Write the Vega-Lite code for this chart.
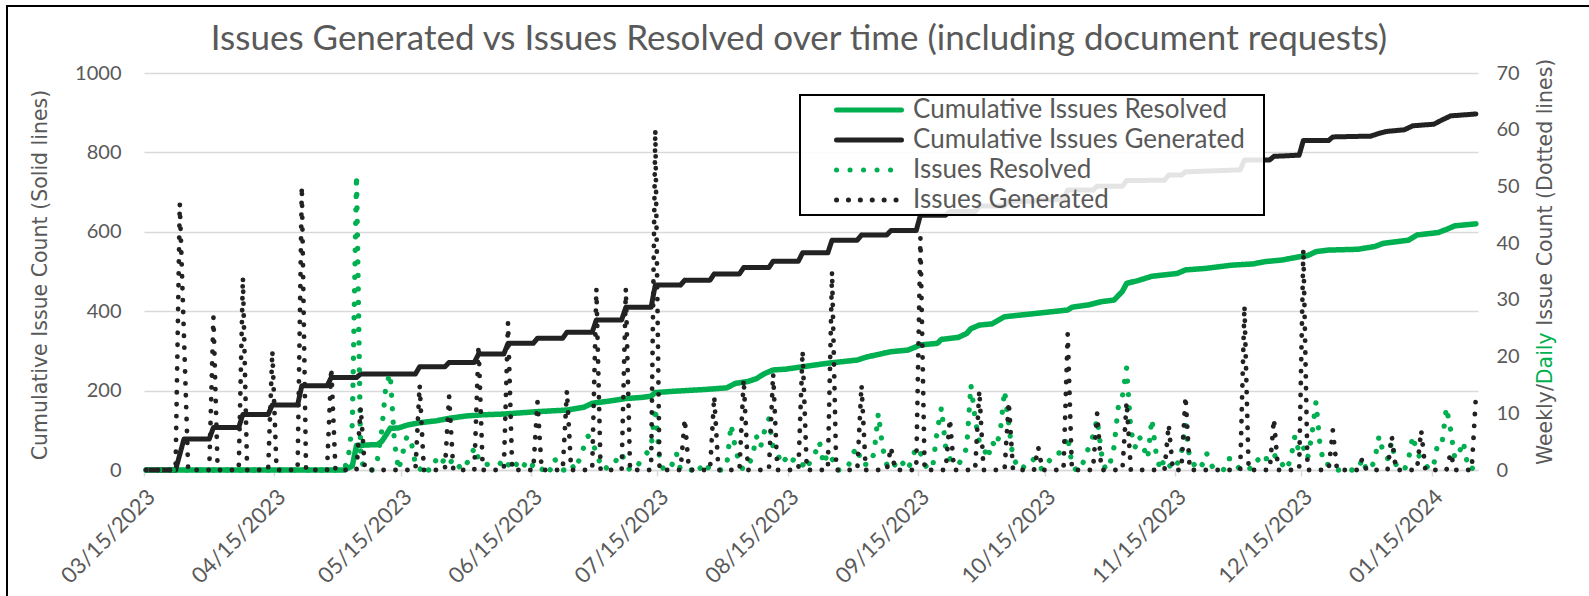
{
"$schema":"https://vega.github.io/schema/vega-lite/v6.json",
"width":1334,"height":397,
"autosize":{"type":"none"},
"padding":{"left":144,"top":73,"right":111,"bottom":126},
"background":"white",
"title":{"text":"Issues Generated vs Issues Resolved over time (including document requests)","font":"Lato","fontSize":35,"fontWeight":"normal","color":"#595959","anchor":"middle","dx":-12,"dy":95,"baseline":"alphabetic","offset":15},
"datasets":{
"resolved_cum":[{"date":"2023-03-15","count":0},{"date":"2023-05-01","count":0},{"date":"2023-05-03","count":10},{"date":"2023-05-04","count":62},{"date":"2023-05-09","count":64},{"date":"2023-05-10","count":72},{"date":"2023-05-11","count":88},{"date":"2023-05-12","count":105},{"date":"2023-05-14","count":106},{"date":"2023-05-16","count":113},{"date":"2023-05-19","count":119},{"date":"2023-05-23","count":124},{"date":"2023-05-26","count":130},{"date":"2023-05-30","count":136},{"date":"2023-06-03","count":139},{"date":"2023-06-08","count":141},{"date":"2023-06-16","count":147},{"date":"2023-06-23","count":151},{"date":"2023-06-27","count":158},{"date":"2023-06-29","count":168},{"date":"2023-07-04","count":175},{"date":"2023-07-07","count":180},{"date":"2023-07-11","count":183},{"date":"2023-07-13","count":186},{"date":"2023-07-14","count":195},{"date":"2023-07-18","count":198},{"date":"2023-07-26","count":203},{"date":"2023-07-31","count":207},{"date":"2023-08-02","count":218},{"date":"2023-08-05","count":223},{"date":"2023-08-07","count":230},{"date":"2023-08-09","count":243},{"date":"2023-08-11","count":252},{"date":"2023-08-14","count":254},{"date":"2023-08-18","count":260},{"date":"2023-08-20","count":263},{"date":"2023-08-24","count":269},{"date":"2023-08-31","count":277},{"date":"2023-09-02","count":284},{"date":"2023-09-05","count":291},{"date":"2023-09-08","count":298},{"date":"2023-09-12","count":302},{"date":"2023-09-15","count":315},{"date":"2023-09-19","count":319},{"date":"2023-09-20","count":329},{"date":"2023-09-24","count":334},{"date":"2023-09-26","count":344},{"date":"2023-09-27","count":356},{"date":"2023-09-29","count":365},{"date":"2023-10-02","count":368},{"date":"2023-10-05","count":386},{"date":"2023-10-13","count":395},{"date":"2023-10-20","count":403},{"date":"2023-10-21","count":410},{"date":"2023-10-25","count":416},{"date":"2023-10-28","count":424},{"date":"2023-10-31","count":428},{"date":"2023-11-02","count":450},{"date":"2023-11-03","count":470},{"date":"2023-11-06","count":478},{"date":"2023-11-09","count":488},{"date":"2023-11-15","count":495},{"date":"2023-11-17","count":504},{"date":"2023-11-22","count":508},{"date":"2023-11-28","count":516},{"date":"2023-12-03","count":519},{"date":"2023-12-06","count":525},{"date":"2023-12-10","count":529},{"date":"2023-12-12","count":533},{"date":"2023-12-14","count":537},{"date":"2023-12-16","count":540},{"date":"2023-12-18","count":550},{"date":"2023-12-21","count":554},{"date":"2023-12-28","count":556},{"date":"2024-01-01","count":563},{"date":"2024-01-03","count":571},{"date":"2024-01-09","count":579},{"date":"2024-01-11","count":592},{"date":"2024-01-16","count":598},{"date":"2024-01-18","count":606},{"date":"2024-01-20","count":615},{"date":"2024-01-25","count":620}],
"generated_cum":[{"date":"2023-03-15","count":0},{"date":"2023-03-22","count":0},{"date":"2023-03-24","count":78},{"date":"2023-03-30","count":78},{"date":"2023-03-31","count":107},{"date":"2023-04-06","count":107},{"date":"2023-04-07","count":140},{"date":"2023-04-13","count":140},{"date":"2023-04-14","count":164},{"date":"2023-04-20","count":164},{"date":"2023-04-21","count":212},{"date":"2023-04-27","count":212},{"date":"2023-04-28","count":233},{"date":"2023-05-04","count":233},{"date":"2023-05-05","count":242},{"date":"2023-05-18","count":242},{"date":"2023-05-19","count":260},{"date":"2023-05-25","count":260},{"date":"2023-05-26","count":271},{"date":"2023-06-01","count":271},{"date":"2023-06-02","count":292},{"date":"2023-06-08","count":292},{"date":"2023-06-09","count":319},{"date":"2023-06-15","count":319},{"date":"2023-06-16","count":332},{"date":"2023-06-22","count":332},{"date":"2023-06-23","count":347},{"date":"2023-06-29","count":347},{"date":"2023-06-30","count":378},{"date":"2023-07-06","count":378},{"date":"2023-07-07","count":410},{"date":"2023-07-13","count":410},{"date":"2023-07-14","count":466},{"date":"2023-07-20","count":466},{"date":"2023-07-21","count":478},{"date":"2023-07-27","count":478},{"date":"2023-07-28","count":494},{"date":"2023-08-03","count":494},{"date":"2023-08-04","count":510},{"date":"2023-08-10","count":510},{"date":"2023-08-11","count":526},{"date":"2023-08-17","count":526},{"date":"2023-08-18","count":547},{"date":"2023-08-24","count":547},{"date":"2023-08-25","count":579},{"date":"2023-08-31","count":579},{"date":"2023-09-01","count":592},{"date":"2023-09-07","count":592},{"date":"2023-09-08","count":603},{"date":"2023-09-14","count":603},{"date":"2023-09-15","count":642},{"date":"2023-09-21","count":642},{"date":"2023-09-22","count":651},{"date":"2023-09-28","count":651},{"date":"2023-09-29","count":665},{"date":"2023-10-05","count":665},{"date":"2023-10-06","count":677},{"date":"2023-10-12","count":677},{"date":"2023-10-13","count":681},{"date":"2023-10-19","count":681},{"date":"2023-10-20","count":705},{"date":"2023-10-26","count":705},{"date":"2023-10-27","count":715},{"date":"2023-11-02","count":715},{"date":"2023-11-03","count":729},{"date":"2023-11-12","count":730},{"date":"2023-11-13","count":743},{"date":"2023-11-16","count":743},{"date":"2023-11-17","count":751},{"date":"2023-11-30","count":756},{"date":"2023-12-01","count":781},{"date":"2023-12-07","count":781},{"date":"2023-12-08","count":790},{"date":"2023-12-14","count":793},{"date":"2023-12-15","count":830},{"date":"2023-12-21","count":830},{"date":"2023-12-22","count":839},{"date":"2023-12-31","count":841},{"date":"2024-01-02","count":848},{"date":"2024-01-04","count":853},{"date":"2024-01-08","count":857},{"date":"2024-01-10","count":867},{"date":"2024-01-15","count":871},{"date":"2024-01-17","count":882},{"date":"2024-01-19","count":892},{"date":"2024-01-24","count":896},{"date":"2024-01-25","count":897}],
"generated_daily":[{"date":"2023-03-15","count":0},{"date":"2023-03-22","count":0},{"date":"2023-03-23","count":47},{"date":"2023-03-25","count":0},{"date":"2023-03-30","count":0},{"date":"2023-03-31","count":27},{"date":"2023-04-01","count":0},{"date":"2023-04-06","count":0},{"date":"2023-04-07","count":34},{"date":"2023-04-08","count":0},{"date":"2023-04-13","count":0},{"date":"2023-04-14","count":21},{"date":"2023-04-15","count":0},{"date":"2023-04-20","count":0},{"date":"2023-04-21","count":50},{"date":"2023-04-22","count":0},{"date":"2023-04-27","count":0},{"date":"2023-04-28","count":18},{"date":"2023-04-29","count":0},{"date":"2023-05-04","count":0},{"date":"2023-05-05","count":11},{"date":"2023-05-06","count":0},{"date":"2023-05-18","count":0},{"date":"2023-05-19","count":15},{"date":"2023-05-20","count":0},{"date":"2023-05-25","count":0},{"date":"2023-05-26","count":13},{"date":"2023-05-27","count":0},{"date":"2023-06-01","count":0},{"date":"2023-06-02","count":22},{"date":"2023-06-03","count":0},{"date":"2023-06-08","count":0},{"date":"2023-06-09","count":26},{"date":"2023-06-10","count":0},{"date":"2023-06-15","count":0},{"date":"2023-06-16","count":12},{"date":"2023-06-17","count":0},{"date":"2023-06-22","count":0},{"date":"2023-06-23","count":14},{"date":"2023-06-24","count":0},{"date":"2023-06-29","count":0},{"date":"2023-06-30","count":32},{"date":"2023-07-01","count":0},{"date":"2023-07-06","count":0},{"date":"2023-07-07","count":32},{"date":"2023-07-08","count":0},{"date":"2023-07-13","count":0},{"date":"2023-07-14","count":60},{"date":"2023-07-15","count":0},{"date":"2023-07-20","count":0},{"date":"2023-07-21","count":9},{"date":"2023-07-22","count":0},{"date":"2023-07-27","count":0},{"date":"2023-07-28","count":13},{"date":"2023-07-29","count":0},{"date":"2023-08-03","count":0},{"date":"2023-08-04","count":16},{"date":"2023-08-05","count":0},{"date":"2023-08-10","count":0},{"date":"2023-08-11","count":17},{"date":"2023-08-12","count":0},{"date":"2023-08-17","count":0},{"date":"2023-08-18","count":21},{"date":"2023-08-19","count":0},{"date":"2023-08-24","count":0},{"date":"2023-08-25","count":35},{"date":"2023-08-26","count":0},{"date":"2023-08-31","count":0},{"date":"2023-09-01","count":15},{"date":"2023-09-02","count":0},{"date":"2023-09-07","count":0},{"date":"2023-09-08","count":4},{"date":"2023-09-09","count":0},{"date":"2023-09-14","count":0},{"date":"2023-09-15","count":41},{"date":"2023-09-16","count":0},{"date":"2023-09-21","count":0},{"date":"2023-09-22","count":9},{"date":"2023-09-23","count":0},{"date":"2023-09-28","count":0},{"date":"2023-09-29","count":14},{"date":"2023-09-30","count":0},{"date":"2023-10-05","count":0},{"date":"2023-10-06","count":12},{"date":"2023-10-07","count":0},{"date":"2023-10-12","count":0},{"date":"2023-10-13","count":4},{"date":"2023-10-14","count":0},{"date":"2023-10-19","count":0},{"date":"2023-10-20","count":24},{"date":"2023-10-21","count":0},{"date":"2023-10-26","count":0},{"date":"2023-10-27","count":10},{"date":"2023-10-28","count":0},{"date":"2023-11-02","count":0},{"date":"2023-11-03","count":12},{"date":"2023-11-04","count":0},{"date":"2023-11-12","count":0},{"date":"2023-11-13","count":8},{"date":"2023-11-14","count":0},{"date":"2023-11-16","count":0},{"date":"2023-11-17","count":13},{"date":"2023-11-18","count":0},{"date":"2023-11-30","count":0},{"date":"2023-12-01","count":29},{"date":"2023-12-02","count":0},{"date":"2023-12-07","count":0},{"date":"2023-12-08","count":9},{"date":"2023-12-09","count":0},{"date":"2023-12-14","count":0},{"date":"2023-12-15","count":39},{"date":"2023-12-16","count":0},{"date":"2023-12-21","count":0},{"date":"2023-12-22","count":7},{"date":"2023-12-23","count":0},{"date":"2023-12-28","count":0},{"date":"2023-12-29","count":2},{"date":"2023-12-30","count":0},{"date":"2024-01-04","count":0},{"date":"2024-01-05","count":6},{"date":"2024-01-06","count":0},{"date":"2024-01-11","count":0},{"date":"2024-01-12","count":7},{"date":"2024-01-13","count":0},{"date":"2024-01-18","count":0},{"date":"2024-01-19","count":3},{"date":"2024-01-20","count":0},{"date":"2024-01-24","count":0},{"date":"2024-01-25","count":13}],
"resolved_daily":[{"date":"2023-03-15","count":0},{"date":"2023-05-01","count":0},{"date":"2023-05-02","count":2},{"date":"2023-05-03","count":8},{"date":"2023-05-04","count":52},{"date":"2023-05-05","count":2},{"date":"2023-05-06","count":0},{"date":"2023-05-08","count":0},{"date":"2023-05-09","count":2},{"date":"2023-05-10","count":7},{"date":"2023-05-11","count":15},{"date":"2023-05-12","count":17},{"date":"2023-05-13","count":5},{"date":"2023-05-14","count":0},{"date":"2023-05-15","count":3},{"date":"2023-05-16","count":6},{"date":"2023-05-17","count":5},{"date":"2023-05-18","count":1},{"date":"2023-05-19","count":0},{"date":"2023-05-20","count":1},{"date":"2023-05-21","count":0},{"date":"2023-05-22","count":0},{"date":"2023-05-23","count":2},{"date":"2023-05-24","count":1},{"date":"2023-05-25","count":2},{"date":"2023-05-26","count":1},{"date":"2023-05-27","count":2},{"date":"2023-05-28","count":1},{"date":"2023-05-29","count":0},{"date":"2023-05-30","count":1},{"date":"2023-05-31","count":2},{"date":"2023-06-01","count":4},{"date":"2023-06-02","count":2},{"date":"2023-06-03","count":1},{"date":"2023-06-04","count":1},{"date":"2023-06-05","count":1},{"date":"2023-06-06","count":1},{"date":"2023-06-07","count":1},{"date":"2023-06-08","count":2},{"date":"2023-06-09","count":1},{"date":"2023-06-10","count":0},{"date":"2023-06-11","count":1},{"date":"2023-06-12","count":0},{"date":"2023-06-13","count":1},{"date":"2023-06-14","count":0},{"date":"2023-06-15","count":1},{"date":"2023-06-16","count":1},{"date":"2023-06-17","count":0},{"date":"2023-06-18","count":1},{"date":"2023-06-19","count":0},{"date":"2023-06-20","count":2},{"date":"2023-06-21","count":1},{"date":"2023-06-22","count":0},{"date":"2023-06-23","count":0},{"date":"2023-06-24","count":1},{"date":"2023-06-25","count":0},{"date":"2023-06-26","count":2},{"date":"2023-06-27","count":4},{"date":"2023-06-28","count":6},{"date":"2023-06-29","count":5},{"date":"2023-06-30","count":3},{"date":"2023-07-01","count":1},{"date":"2023-07-02","count":0},{"date":"2023-07-03","count":1},{"date":"2023-07-04","count":1},{"date":"2023-07-05","count":2},{"date":"2023-07-06","count":3},{"date":"2023-07-07","count":1},{"date":"2023-07-08","count":0},{"date":"2023-07-09","count":1},{"date":"2023-07-10","count":1},{"date":"2023-07-11","count":2},{"date":"2023-07-12","count":3},{"date":"2023-07-13","count":4},{"date":"2023-07-14","count":11},{"date":"2023-07-15","count":2},{"date":"2023-07-16","count":0},{"date":"2023-07-17","count":0},{"date":"2023-07-18","count":1},{"date":"2023-07-19","count":3},{"date":"2023-07-20","count":0},{"date":"2023-07-23","count":0},{"date":"2023-07-24","count":1},{"date":"2023-07-25","count":0},{"date":"2023-07-26","count":1},{"date":"2023-07-27","count":0},{"date":"2023-07-30","count":0},{"date":"2023-07-31","count":1},{"date":"2023-08-01","count":8},{"date":"2023-08-02","count":4},{"date":"2023-08-03","count":1},{"date":"2023-08-04","count":0},{"date":"2023-08-05","count":1},{"date":"2023-08-06","count":2},{"date":"2023-08-07","count":6},{"date":"2023-08-08","count":4},{"date":"2023-08-09","count":7},{"date":"2023-08-10","count":9},{"date":"2023-08-11","count":4},{"date":"2023-08-12","count":3},{"date":"2023-08-13","count":1},{"date":"2023-08-14","count":2},{"date":"2023-08-15","count":1},{"date":"2023-08-16","count":2},{"date":"2023-08-17","count":1},{"date":"2023-08-18","count":1},{"date":"2023-08-19","count":0},{"date":"2023-08-20","count":2},{"date":"2023-08-21","count":3},{"date":"2023-08-22","count":5},{"date":"2023-08-23","count":1},{"date":"2023-08-24","count":3},{"date":"2023-08-25","count":2},{"date":"2023-08-26","count":0},{"date":"2023-08-28","count":0},{"date":"2023-08-29","count":1},{"date":"2023-08-30","count":3},{"date":"2023-08-31","count":4},{"date":"2023-09-01","count":1},{"date":"2023-09-02","count":1},{"date":"2023-09-03","count":1},{"date":"2023-09-04","count":3},{"date":"2023-09-05","count":10},{"date":"2023-09-06","count":4},{"date":"2023-09-07","count":1},{"date":"2023-09-08","count":0},{"date":"2023-09-09","count":1},{"date":"2023-09-10","count":2},{"date":"2023-09-11","count":1},{"date":"2023-09-12","count":0},{"date":"2023-09-13","count":2},{"date":"2023-09-14","count":4},{"date":"2023-09-15","count":3},{"date":"2023-09-16","count":1},{"date":"2023-09-17","count":0},{"date":"2023-09-18","count":1},{"date":"2023-09-19","count":7},{"date":"2023-09-20","count":11},{"date":"2023-09-21","count":4},{"date":"2023-09-22","count":2},{"date":"2023-09-23","count":1},{"date":"2023-09-24","count":1},{"date":"2023-09-25","count":2},{"date":"2023-09-26","count":4},{"date":"2023-09-27","count":15},{"date":"2023-09-28","count":9},{"date":"2023-09-29","count":5},{"date":"2023-09-30","count":4},{"date":"2023-10-01","count":2},{"date":"2023-10-02","count":5},{"date":"2023-10-03","count":4},{"date":"2023-10-04","count":7},{"date":"2023-10-05","count":14},{"date":"2023-10-06","count":8},{"date":"2023-10-07","count":2},{"date":"2023-10-08","count":1},{"date":"2023-10-09","count":0},{"date":"2023-10-10","count":1},{"date":"2023-10-11","count":1},{"date":"2023-10-12","count":2},{"date":"2023-10-13","count":1},{"date":"2023-10-14","count":0},{"date":"2023-10-15","count":1},{"date":"2023-10-16","count":2},{"date":"2023-10-17","count":3},{"date":"2023-10-18","count":3},{"date":"2023-10-19","count":4},{"date":"2023-10-20","count":6},{"date":"2023-10-21","count":1},{"date":"2023-10-22","count":0},{"date":"2023-10-23","count":0},{"date":"2023-10-24","count":2},{"date":"2023-10-25","count":4},{"date":"2023-10-26","count":6},{"date":"2023-10-27","count":9},{"date":"2023-10-28","count":3},{"date":"2023-10-29","count":0},{"date":"2023-10-30","count":1},{"date":"2023-10-31","count":4},{"date":"2023-11-01","count":11},{"date":"2023-11-02","count":13},{"date":"2023-11-03","count":18},{"date":"2023-11-04","count":7},{"date":"2023-11-05","count":4},{"date":"2023-11-06","count":6},{"date":"2023-11-07","count":4},{"date":"2023-11-08","count":2},{"date":"2023-11-09","count":9},{"date":"2023-11-10","count":3},{"date":"2023-11-11","count":0},{"date":"2023-11-12","count":2},{"date":"2023-11-13","count":1},{"date":"2023-11-14","count":0},{"date":"2023-11-15","count":1},{"date":"2023-11-16","count":3},{"date":"2023-11-17","count":8},{"date":"2023-11-18","count":2},{"date":"2023-11-19","count":1},{"date":"2023-11-20","count":0},{"date":"2023-11-21","count":1},{"date":"2023-11-22","count":3},{"date":"2023-11-23","count":1},{"date":"2023-11-24","count":0},{"date":"2023-11-26","count":0},{"date":"2023-11-27","count":2},{"date":"2023-11-28","count":2},{"date":"2023-11-29","count":1},{"date":"2023-11-30","count":0},{"date":"2023-12-02","count":0},{"date":"2023-12-03","count":1},{"date":"2023-12-04","count":2},{"date":"2023-12-05","count":1},{"date":"2023-12-06","count":2},{"date":"2023-12-07","count":2},{"date":"2023-12-08","count":3},{"date":"2023-12-09","count":1},{"date":"2023-12-10","count":1},{"date":"2023-12-11","count":0},{"date":"2023-12-12","count":2},{"date":"2023-12-13","count":6},{"date":"2023-12-14","count":3},{"date":"2023-12-15","count":4},{"date":"2023-12-16","count":2},{"date":"2023-12-17","count":6},{"date":"2023-12-18","count":12},{"date":"2023-12-19","count":4},{"date":"2023-12-20","count":1},{"date":"2023-12-21","count":1},{"date":"2023-12-22","count":0},{"date":"2023-12-28","count":0},{"date":"2023-12-29","count":2},{"date":"2023-12-30","count":0},{"date":"2023-12-31","count":0},{"date":"2024-01-01","count":2},{"date":"2024-01-02","count":6},{"date":"2024-01-03","count":3},{"date":"2024-01-04","count":2},{"date":"2024-01-05","count":5},{"date":"2024-01-06","count":1},{"date":"2024-01-07","count":0},{"date":"2024-01-08","count":0},{"date":"2024-01-09","count":2},{"date":"2024-01-10","count":6},{"date":"2024-01-11","count":3},{"date":"2024-01-12","count":2},{"date":"2024-01-13","count":1},{"date":"2024-01-14","count":0},{"date":"2024-01-15","count":1},{"date":"2024-01-16","count":5},{"date":"2024-01-17","count":5},{"date":"2024-01-18","count":11},{"date":"2024-01-19","count":7},{"date":"2024-01-20","count":2},{"date":"2024-01-21","count":3},{"date":"2024-01-22","count":5},{"date":"2024-01-23","count":1},{"date":"2024-01-24","count":0},{"date":"2024-01-25","count":2}],
"axis_range":[{"count":0},{"count":70}]
},
"layer":[
{"layer":[
 {"data":{"name":"resolved_cum","format":{"parse":{"date":"date:'%Y-%m-%d'"}}},
  "mark":{"type":"line","strokeWidth":5.5,"strokeCap":"round","strokeJoin":"round"},
  "encoding":{
   "x":{"field":"date","type":"temporal","timeUnit":"yearmonthdate","bandPosition":0.5,"scale":{"domain":[{"year":2023,"month":3,"date":15},{"year":2024,"month":1,"date":26}]},
    "axis":{"title":null,"format":"%m/%d/%Y","formatType":"time","values":[{"year":2023,"month":3,"date":15},{"year":2023,"month":4,"date":15},{"year":2023,"month":5,"date":15},{"year":2023,"month":6,"date":15},{"year":2023,"month":7,"date":15},{"year":2023,"month":8,"date":15},{"year":2023,"month":9,"date":15},{"year":2023,"month":10,"date":15},{"year":2023,"month":11,"date":15},{"year":2023,"month":12,"date":15},{"year":2024,"month":1,"date":15}],"labelAngle":-45,"labelFont":"Lato","labelFontSize":22,"labelColor":"#595959","labelPadding":10,"labelOverlap":false,"grid":false,"domainColor":"#d9d9d9","domainWidth":1.5,"tickColor":"#d9d9d9","tickWidth":1.5,"tickSize":6}},
   "y":{"field":"count","type":"quantitative","scale":{"domain":[0,1000],"nice":false},
    "axis":{"values":[0,100,200,300,400,500,600,700,800,900,1000],"format":"d","title":"Cumulative Issue Count (Solid lines)","titleFont":"DejaVu Sans","titleFontSize":20.5,"titleFontWeight":"normal","titleColor":"#595959","titleAngle":270,"titleX":-103.5,"titleY":201.5,"titleAlign":"center","titleBaseline":"middle","titleLimit":1000,"labelFont":"Lato","labelFontSize":20,"labelColor":"#595959","labelPadding":23,"ticks":false,"domain":false,"grid":true,"gridColor":"#d9d9d9","gridWidth":1.5}},
   "color":{"datum":"Cumulative Issues Resolved","type":"nominal","scale":{"domain":["Cumulative Issues Resolved","Cumulative Issues Generated","Issues Resolved","Issues Generated"],"range":["#00b050","#222222","#00b050","#222222"]},"legend":{"title":".","titleOrient":"right","titleColor":"transparent","titleFontSize":10,"titlePadding":16,"encode":{"symbols":{"update":{"strokeCap":{"value":"round"}}}}}},
   "strokeDash":{"datum":"Cumulative Issues Resolved","type":"nominal","scale":{"domain":["Cumulative Issues Resolved","Cumulative Issues Generated","Issues Resolved","Issues Generated"],"range":[[1,0],[1,0],[0.1,13.4],[0.1,11.8]]},"legend":{"title":".","titleOrient":"right","titleColor":"transparent","titleFontSize":10,"titlePadding":16,"encode":{"symbols":{"update":{"strokeCap":{"value":"round"}}}}}}
  }},
 {"data":{"name":"generated_cum","format":{"parse":{"date":"date:'%Y-%m-%d'"}}},
  "mark":{"type":"line","strokeWidth":5,"strokeCap":"round","strokeJoin":"round"},
  "encoding":{
   "x":{"field":"date","type":"temporal","timeUnit":"yearmonthdate","bandPosition":0.5,"scale":{"domain":[{"year":2023,"month":3,"date":15},{"year":2024,"month":1,"date":26}]},
    "axis":{"title":null,"format":"%m/%d/%Y","formatType":"time","values":[{"year":2023,"month":3,"date":15},{"year":2023,"month":4,"date":15},{"year":2023,"month":5,"date":15},{"year":2023,"month":6,"date":15},{"year":2023,"month":7,"date":15},{"year":2023,"month":8,"date":15},{"year":2023,"month":9,"date":15},{"year":2023,"month":10,"date":15},{"year":2023,"month":11,"date":15},{"year":2023,"month":12,"date":15},{"year":2024,"month":1,"date":15}],"labelAngle":-45,"labelFont":"Lato","labelFontSize":22,"labelColor":"#595959","labelPadding":10,"labelOverlap":false,"grid":false,"domainColor":"#d9d9d9","domainWidth":1.5,"tickColor":"#d9d9d9","tickWidth":1.5,"tickSize":6}},
   "y":{"field":"count","type":"quantitative","scale":{"domain":[0,1000],"nice":false}},
   "color":{"datum":"Cumulative Issues Generated","type":"nominal","scale":{"domain":["Cumulative Issues Resolved","Cumulative Issues Generated","Issues Resolved","Issues Generated"],"range":["#00b050","#222222","#00b050","#222222"]},"legend":{"title":".","titleOrient":"right","titleColor":"transparent","titleFontSize":10,"titlePadding":16,"encode":{"symbols":{"update":{"strokeCap":{"value":"round"}}}}}},
   "strokeDash":{"datum":"Cumulative Issues Generated","type":"nominal","scale":{"domain":["Cumulative Issues Resolved","Cumulative Issues Generated","Issues Resolved","Issues Generated"],"range":[[1,0],[1,0],[0.1,13.4],[0.1,11.8]]},"legend":{"title":".","titleOrient":"right","titleColor":"transparent","titleFontSize":10,"titlePadding":16,"encode":{"symbols":{"update":{"strokeCap":{"value":"round"}}}}}}
  }}
]},
{"layer":[
 {"data":{"name":"resolved_daily","format":{"parse":{"date":"date:'%Y-%m-%d'"}}},
  "mark":{"type":"line","strokeWidth":5.3,"strokeCap":"round","strokeJoin":"round"},
  "encoding":{
   "x":{"field":"date","type":"temporal","timeUnit":"yearmonthdate","bandPosition":0.5,"scale":{"domain":[{"year":2023,"month":3,"date":15},{"year":2024,"month":1,"date":26}]},
    "axis":{"title":null,"format":"%m/%d/%Y","formatType":"time","values":[{"year":2023,"month":3,"date":15},{"year":2023,"month":4,"date":15},{"year":2023,"month":5,"date":15},{"year":2023,"month":6,"date":15},{"year":2023,"month":7,"date":15},{"year":2023,"month":8,"date":15},{"year":2023,"month":9,"date":15},{"year":2023,"month":10,"date":15},{"year":2023,"month":11,"date":15},{"year":2023,"month":12,"date":15},{"year":2024,"month":1,"date":15}],"labelAngle":-45,"labelFont":"Lato","labelFontSize":22,"labelColor":"#595959","labelPadding":10,"labelOverlap":false,"grid":false,"domainColor":"#d9d9d9","domainWidth":1.5,"tickColor":"#d9d9d9","tickWidth":1.5,"tickSize":6}},
   "y":{"field":"count","type":"quantitative","scale":{"domain":[0,70],"nice":false},
    "axis":{"orient":"right","values":[0,10,20,30,40,50,60,70],"title":"Weekly/","titleFont":"DejaVu Sans","titleFontSize":20.5,"titleFontWeight":"normal","titleColor":"#595959","titleAngle":270,"titleX":67,"titleY":310.7,"titleAlign":"right","titleBaseline":"middle","labelFont":"Lato","labelFontSize":20,"labelColor":"#595959","labelPadding":18,"ticks":false,"domain":false,"grid":false}},
   "color":{"datum":"Issues Resolved","type":"nominal","scale":{"domain":["Cumulative Issues Resolved","Cumulative Issues Generated","Issues Resolved","Issues Generated"],"range":["#00b050","#222222","#00b050","#222222"]},"legend":{"title":".","titleOrient":"right","titleColor":"transparent","titleFontSize":10,"titlePadding":16,"encode":{"symbols":{"update":{"strokeCap":{"value":"round"}}}}}},
   "strokeDash":{"datum":"Issues Resolved","type":"nominal","scale":{"domain":["Cumulative Issues Resolved","Cumulative Issues Generated","Issues Resolved","Issues Generated"],"range":[[1,0],[1,0],[0.1,13.4],[0.1,11.8]]},"legend":{"title":".","titleOrient":"right","titleColor":"transparent","titleFontSize":10,"titlePadding":16,"encode":{"symbols":{"update":{"strokeCap":{"value":"round"}}}}}}
  }},
 {"data":{"name":"generated_daily","format":{"parse":{"date":"date:'%Y-%m-%d'"}}},
  "mark":{"type":"line","strokeWidth":4.8,"strokeCap":"round","strokeJoin":"round"},
  "encoding":{
   "x":{"field":"date","type":"temporal","timeUnit":"yearmonthdate","bandPosition":0.5,"scale":{"domain":[{"year":2023,"month":3,"date":15},{"year":2024,"month":1,"date":26}]},
    "axis":{"title":null,"format":"%m/%d/%Y","formatType":"time","values":[{"year":2023,"month":3,"date":15},{"year":2023,"month":4,"date":15},{"year":2023,"month":5,"date":15},{"year":2023,"month":6,"date":15},{"year":2023,"month":7,"date":15},{"year":2023,"month":8,"date":15},{"year":2023,"month":9,"date":15},{"year":2023,"month":10,"date":15},{"year":2023,"month":11,"date":15},{"year":2023,"month":12,"date":15},{"year":2024,"month":1,"date":15}],"labelAngle":-45,"labelFont":"Lato","labelFontSize":22,"labelColor":"#595959","labelPadding":10,"labelOverlap":false,"grid":false,"domainColor":"#d9d9d9","domainWidth":1.5,"tickColor":"#d9d9d9","tickWidth":1.5,"tickSize":6}},
   "y":{"field":"count","type":"quantitative","scale":{"domain":[0,70],"nice":false}},
   "color":{"datum":"Issues Generated","type":"nominal","scale":{"domain":["Cumulative Issues Resolved","Cumulative Issues Generated","Issues Resolved","Issues Generated"],"range":["#00b050","#222222","#00b050","#222222"]},"legend":{"title":".","titleOrient":"right","titleColor":"transparent","titleFontSize":10,"titlePadding":16,"encode":{"symbols":{"update":{"strokeCap":{"value":"round"}}}}}},
   "strokeDash":{"datum":"Issues Generated","type":"nominal","scale":{"domain":["Cumulative Issues Resolved","Cumulative Issues Generated","Issues Resolved","Issues Generated"],"range":[[1,0],[1,0],[0.1,13.4],[0.1,11.8]]},"legend":{"title":".","titleOrient":"right","titleColor":"transparent","titleFontSize":10,"titlePadding":16,"encode":{"symbols":{"update":{"strokeCap":{"value":"round"}}}}}}
  }}
]},
{"data":{"name":"axis_range"},
 "mark":{"type":"rule","opacity":0},
 "encoding":{
  "y":{"field":"count","type":"quantitative","scale":{"domain":[0,70],"nice":false},
   "axis":{"orient":"right","labels":false,"ticks":false,"domain":false,"grid":false,"title":"Daily","titleFont":"DejaVu Sans","titleFontSize":20.5,"titleFontWeight":"normal","titleColor":"#00b050","titleAngle":270,"titleX":67,"titleY":310.7,"titleAlign":"left","titleBaseline":"middle"}}
 }},
{"data":{"name":"axis_range"},
 "mark":{"type":"rule","opacity":0},
 "encoding":{
  "y":{"field":"count","type":"quantitative","scale":{"domain":[0,70],"nice":false},
   "axis":{"orient":"right","labels":false,"ticks":false,"domain":false,"grid":false,"title":"Issue Count (Dotted lines)","titleFont":"DejaVu Sans","titleFontSize":20.5,"titleFontWeight":"normal","titleColor":"#595959","titleAngle":270,"titleX":67,"titleY":252.3,"titleAlign":"left","titleBaseline":"middle","titleLimit":1000}},
  "opacity":{"datum":"frame","type":"nominal","scale":{"domain":["frame"],"range":[0,0]},
   "legend":{"title":null,"orient":"none","legendX":-137,"legendY":-67,"padding":1000,"fillColor":"transparent","strokeColor":"#000000","symbolOpacity":0,"labelColor":"transparent"}}
 }}
],
"resolve":{"scale":{"y":"independent"}},
"config":{
 "view":{"stroke":null},
 "legend":{"orient":"none","legendX":656,"legendY":22,"symbolType":"stroke","symbolSize":4225,"symbolStrokeWidth":5,"clipHeight":30,"rowPadding":0,"padding":0,"symbolOffset":34,"labelOffset":9,"labelFont":"Lato","labelFontSize":26,"labelColor":"#595959","labelLimit":1000,"fillColor":"rgba(255,255,255,0.88)","strokeColor":"#000000","strokeWidth":2}
}
}
